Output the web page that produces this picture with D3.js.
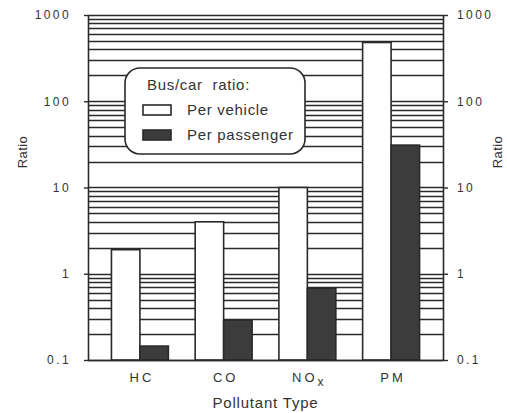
<!DOCTYPE html>
<html>
<head>
<meta charset="utf-8">
<script src="https://cdn.jsdelivr.net/npm/d3@7/dist/d3.min.js"></script>
<style>
  html, body { margin: 0; padding: 0; background: #fff; }
  svg { display: block; }
  text { font-family: "Liberation Sans", Arial, Helvetica, sans-serif; fill: #333; white-space: pre; }
</style>
</head>
<body>
<svg id="chart" width="507" height="413"></svg>
<script>
// Bus/car emission ratios by pollutant
const categories = ["HC", "CO", "NOx", "PM"];
const perVehicle = [1.9, 4.0, 10, 480];
const perPassenger = [0.145, 0.29, 0.68, 31];
const seriesNames = ["Per vehicle", "Per passenger"];
const yTicks = [0.1, 1, 10, 100, 1000];
const yTickLabels = ["0.1", "1", "10", "100", "1000"];
const legendTitle = "Bus/car  ratio:";
const xTitle = "Pollutant Type";
const yTitle = "Ratio";

const ink = "#2a2a2a";
const darkFill = "#3c3c3c";

const svg = d3.select("#chart");
const plotLeft = 88, plotRight = 443, plotTop = 15, plotBottom = 360;

const y = d3.scaleLog().domain([0.1, 1000]).range([plotBottom, plotTop]);
const x0 = d3.scaleBand().domain(categories).range([plotLeft, plotRight])
  .paddingInner(0.32).paddingOuter(0.28);
const x1 = d3.scaleBand().domain(seriesNames).range([0, x0.bandwidth()]);

// Horizontal rules at every log tick
svg.append("g").selectAll("line")
  .data(y.ticks())
  .join("line")
  .attr("x1", plotLeft).attr("x2", plotRight)
  .attr("y1", d => Math.round(y(d)) + 0.5)
  .attr("y2", d => Math.round(y(d)) + 0.5)
  .attr("stroke", ink).attr("stroke-width", 1.4);

// Bars
const rows = categories.map((c, i) => ({
  cat: c,
  values: [
    { series: seriesNames[0], v: perVehicle[i] },
    { series: seriesNames[1], v: perPassenger[i] }
  ]
}));

svg.append("g").selectAll("g")
  .data(rows)
  .join("g")
  .attr("transform", d => `translate(${x0(d.cat)},0)`)
  .selectAll("rect")
  .data(d => d.values)
  .join("rect")
  .attr("x", d => x1(d.series))
  .attr("width", x1.bandwidth())
  .attr("y", d => y(d.v))
  .attr("height", d => plotBottom - y(d.v))
  .attr("fill", d => d.series === seriesNames[0] ? "#fff" : darkFill)
  .attr("stroke", ink).attr("stroke-width", 1.6);

// Axes on both sides
const tickLabel = d => yTickLabels[yTicks.indexOf(d)];
const leftAxis = svg.append("g")
  .attr("transform", `translate(${plotLeft},0)`)
  .call(d3.axisLeft(y).tickValues(yTicks).tickFormat(tickLabel)
    .tickSize(4).tickSizeOuter(0).tickPadding(13));
const rightAxis = svg.append("g")
  .attr("transform", `translate(${plotRight},0)`)
  .call(d3.axisRight(y).tickValues(yTicks).tickFormat(tickLabel)
    .tickSize(5).tickSizeOuter(0).tickPadding(9));
[leftAxis, rightAxis].forEach(g => {
  g.select(".domain").attr("stroke", ink).attr("stroke-width", 1.6);
  g.selectAll(".tick line").attr("stroke", ink).attr("stroke-width", 1.4);
  g.selectAll(".tick text")
    .attr("font-size", 12).attr("letter-spacing", 2.4)
    .style("font-family", "'Liberation Sans', Arial, sans-serif")
    .attr("fill", "#333");
});

// Baseline
svg.append("line")
  .attr("x1", plotLeft).attr("x2", plotRight)
  .attr("y1", plotBottom + 0.5).attr("y2", plotBottom + 0.5)
  .attr("stroke", ink).attr("stroke-width", 1.6);

// Category labels
const xl = svg.append("g").selectAll("text")
  .data(categories)
  .join("text")
  .attr("x", d => x0(d) + x0.bandwidth() / 2 + 2)
  .attr("y", 382)
  .attr("text-anchor", "middle")
  .attr("font-size", 13)
  .attr("letter-spacing", 3);
xl.each(function(d) {
  const t = d3.select(this);
  if (d === "NOx") {
    t.append("tspan").text("NO");
    t.append("tspan").attr("dy", 4).attr("font-size", 12).text("x");
  } else {
    t.text(d);
  }
});

// Axis titles
svg.append("text")
  .attr("x", (plotLeft + plotRight) / 2).attr("y", 408)
  .attr("text-anchor", "middle").attr("font-size", 15)
  .attr("letter-spacing", 0.8)
  .text(xTitle);
svg.append("text")
  .attr("transform", "translate(27,152) rotate(-90)")
  .attr("text-anchor", "middle").attr("font-size", 13)
  .attr("letter-spacing", 0.4)
  .text(yTitle);
svg.append("text")
  .attr("transform", "translate(502,152) rotate(-90)")
  .attr("text-anchor", "middle").attr("font-size", 13)
  .attr("letter-spacing", 0.4)
  .text(yTitle);

// Legend
const lg = svg.append("g").attr("transform", "translate(125,68)");
lg.append("rect")
  .attr("width", 180).attr("height", 86).attr("rx", 15).attr("ry", 15)
  .attr("fill", "#fff").attr("stroke", ink).attr("stroke-width", 1.6);
lg.append("text").attr("x", 22).attr("y", 22)
  .attr("font-size", 15).attr("letter-spacing", 0.7).text(legendTitle);
seriesNames.forEach((s, i) => {
  const yy = 37 + i * 25;
  lg.append("rect")
    .attr("x", 18).attr("y", yy).attr("width", 28).attr("height", 10)
    .attr("fill", i === 0 ? "#fff" : darkFill)
    .attr("stroke", ink).attr("stroke-width", 1.6);
  lg.append("text").attr("x", 62).attr("y", yy + 10)
    .attr("font-size", 15).attr("letter-spacing", 0.7).text(s);
});
</script>
</body>
</html>
